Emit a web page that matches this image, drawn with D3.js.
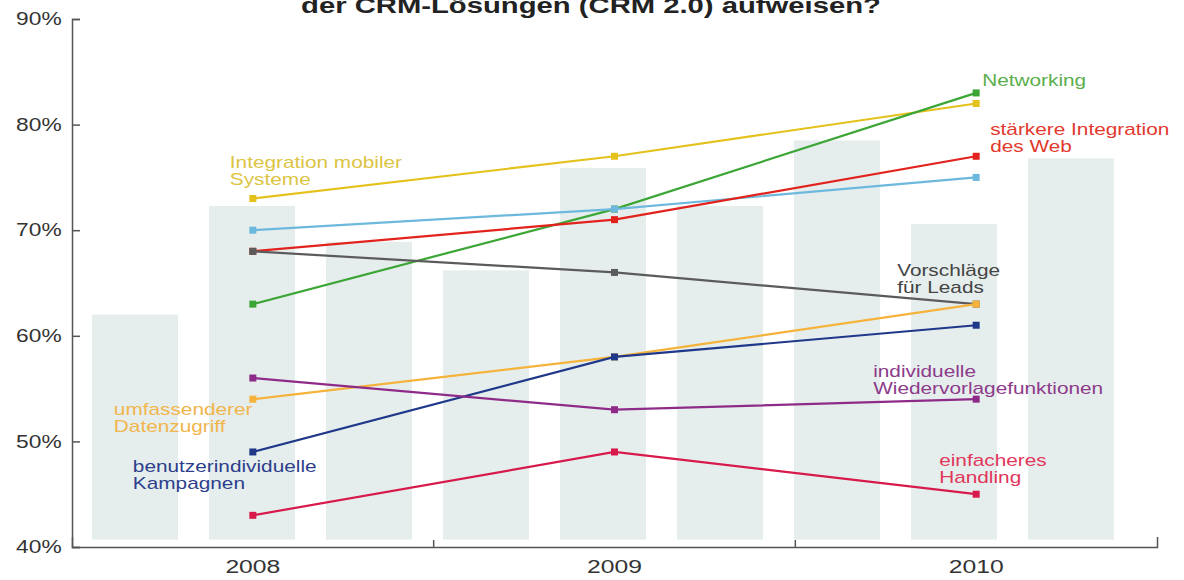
<!DOCTYPE html>
<html>
<head>
<meta charset="utf-8">
<script src="https://cdn.jsdelivr.net/npm/d3@7"></script>
<style>
  body { margin: 0; background: #fff; }
  svg { display: block; font-family: "Liberation Sans", Arial, Helvetica, sans-serif; }
  .axis path, .axis line { stroke: #555; stroke-width: 1.5; }
  .axis text { fill: #333; }
</style>
</head>
<body>
<div id="chart"></div>
<script>
// data
var years = ["2008", "2009", "2010"];
var yTicks = [40, 50, 60, 70, 80, 90];
// background columns, three per year
var barValues = [62, 72.3, 68.9, 66.2, 75.9, 72.3, 78.5, 70.6, 76.8];

var seriesNames = [
  "Integration mobiler Systeme",
  "Networking",
  "blau",
  "stärkere Integration des Web",
  "Vorschläge für Leads",
  "umfassenderer Datenzugriff",
  "benutzerindividuelle Kampagnen",
  "individuelle Wiedervorlagefunktionen",
  "einfacheres Handling"
];
var seriesValues = [
  [73, 77, 82],
  [63, 72, 83],
  [70, 72, 75],
  [68, 71, 77],
  [68, 66, 63],
  [54, 58, 63],
  [49, 58, 61],
  [56, 53, 54],
  [43, 49, 45]
];
var seriesColors = ["#e4c11b", "#3ba635", "#6db8dd", "#e2221c", "#5b5b5b", "#f5b33b", "#1f388a", "#8e2b88", "#d7194b"];
var labelColors  = ["#dcc444", "#5cae4c", "#6db8dd", "#e2392e", "#444444", "#f1b54c", "#2d3f8c", "#8d3b8b", "#e0375b"];

// label lines per series (empty = no label)
var labelLines = [
  ["Integration mobiler", "Systeme"],
  ["Networking"],
  [],
  ["stärkere Integration", "des Web"],
  ["Vorschläge", "für Leads"],
  ["umfassenderer", "Datenzugriff"],
  ["benutzerindividuelle", "Kampagnen"],
  ["individuelle", "Wiedervorlagefunktionen"],
  ["einfacheres", "Handling"]
];
// label anchor: which year and offset of first baseline from the point, px
var labelPlace = [
  {i: 0, dx: -23, dy: -31},
  {i: 2, dx: 6, dy: -7},
  {i: 2, dx: 0, dy: 0},
  {i: 2, dx: 14, dy: -21},
  {i: 2, dx: -79, dy: -28},
  {i: 0, dx: -139, dy: 16},
  {i: 0, dx: -120, dy: 20},
  {i: 2, dx: -103, dy: -22},
  {i: 2, dx: -37, dy: -28}
];

// the original picture is stretched sideways, so text is too
var stretch = 1.3;

var svgWidth = 1184, svgHeight = 580;
var margin = {top: 19, right: 27, bottom: 33, left: 72};
var width = svgWidth - margin.left - margin.right;
var height = svgHeight - margin.top - margin.bottom;

var svg = d3.select("#chart").append("svg")
  .attr("width", svgWidth)
  .attr("height", svgHeight);

// title, cut off at the top edge like in the original
svg.append("text")
  .attr("transform", `translate(591, 13) scale(${stretch}, 1)`)
  .attr("text-anchor", "middle")
  .attr("font-size", 22.5)
  .attr("font-weight", "bold")
  .attr("fill", "#222")
  .text("der CRM-Lösungen (CRM 2.0) aufweisen?");

var g = svg.append("g")
  .attr("transform", `translate(${margin.left}, ${margin.top})`);

var x = d3.scaleBand().domain(years).range([0, width]);
var y = d3.scaleLinear().domain([40, 90]).range([height, 0]);
var xBar = d3.scaleBand()
  .domain(d3.range(barValues.length))
  .range([4.5, 1057.5])
  .paddingInner(0.265)
  .paddingOuter(0.133);

// background columns
g.selectAll("rect.bg")
  .data(barValues)
  .enter().append("rect")
  .attr("class", "bg")
  .attr("x", (d, i) => xBar(i))
  .attr("width", xBar.bandwidth())
  .attr("y", d => y(d))
  .attr("height", d => y(40.7) - y(d))
  .attr("fill", "#e6eeed");

// axes
var yAxis = d3.axisLeft(y)
  .tickValues(yTicks)
  .tickFormat(d => d + "%")
  .tickSizeInner(-8)
  .tickSizeOuter(-8)
  .tickPadding(8);
var yg = g.append("g").attr("class", "axis").call(yAxis);
yg.selectAll(".tick text")
  .attr("font-size", 17.5)
  .attr("transform", `scale(${stretch}, 1)`);

var xAxis = d3.axisBottom(x).tickSizeInner(0).tickSizeOuter(-10).tickPadding(13);
var xg = g.append("g").attr("class", "axis")
  .attr("transform", `translate(0, ${height})`)
  .call(xAxis);
xg.selectAll(".tick text")
  .attr("font-size", 19)
  .attr("transform", `scale(${stretch}, 1)`);
xg.selectAll("line.sep")
  .data(years.slice(1))
  .enter().append("line")
  .attr("class", "sep")
  .attr("x1", d => x(d)).attr("x2", d => x(d))
  .attr("y1", 0).attr("y2", -7);

// lines
var line = d3.line()
  .x((d, i) => x(years[i]) + x.bandwidth() / 2)
  .y(d => y(d));

var series = g.selectAll("g.series")
  .data(seriesValues)
  .enter().append("g")
  .attr("class", "series");

series.append("path")
  .attr("d", d => line(d))
  .attr("fill", "none")
  .attr("stroke", (d, i) => seriesColors[i])
  .attr("stroke-width", 2.2);

series.each(function(vals, s) {
  d3.select(this).selectAll("rect")
    .data(vals)
    .enter().append("rect")
    .attr("x", (d, i) => x(years[i]) + x.bandwidth() / 2 - 3.5)
    .attr("y", d => y(d) - 3.5)
    .attr("width", 7)
    .attr("height", 7)
    .attr("fill", seriesColors[s]);
});

// labels
seriesValues.forEach(function(vals, s) {
  var lines = labelLines[s];
  if (!lines.length) return;
  var p = labelPlace[s];
  var px = x(years[p.i]) + x.bandwidth() / 2 + p.dx;
  var py = y(vals[p.i]) + p.dy;
  var t = g.append("text")
    .attr("transform", `translate(${px}, ${py}) scale(${stretch}, 1)`)
    .attr("font-size", 16)
    .attr("fill", labelColors[s]);
  lines.forEach(function(l, k) {
    t.append("tspan")
      .attr("x", 0)
      .attr("y", k * 17)
      .text(l);
  });
});
</script>
</body>
</html>
